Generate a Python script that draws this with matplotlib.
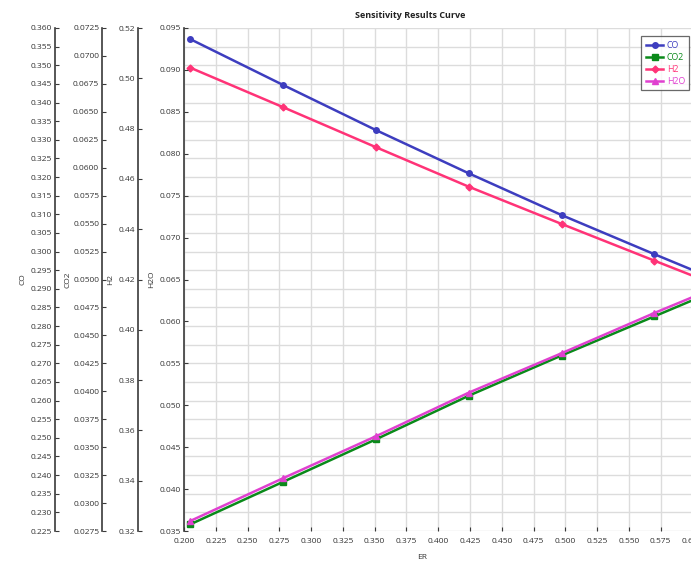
import matplotlib.pyplot as plt
from matplotlib.ticker import MultipleLocator, FormatStrFormatter

plt.rcParams['font.family'] = ['Open Sans', 'DejaVu Sans']

# sensitivity data
er = [0.205, 0.278, 0.351, 0.424, 0.497, 0.570, 0.643]
co = [0.3570, 0.3447, 0.3326, 0.3210, 0.3098, 0.2993, 0.2890]
co2 = [0.0281, 0.0319, 0.0357, 0.0396, 0.0432, 0.0467, 0.0502]
h2 = [0.5042, 0.4885, 0.4726, 0.4569, 0.4421, 0.4275, 0.4130]
h2o = [0.0362, 0.0413, 0.0463, 0.0515, 0.0562, 0.0610, 0.0656]

W, H = 691, 563
fig = plt.figure(figsize=(W / 100, H / 100), dpi=100, facecolor='white')

# axes box in pixels (right side runs past the picture edge)
left, right, top, bottom = 184, 756, 28, 531
ax = fig.add_axes([left / W, (H - bottom) / H, (right - left) / W, (bottom - top) / H])
ax.set_xlim(0.2, 0.65)

ax_co = ax.twinx()
ax_co2 = ax.twinx()
ax_h2 = ax.twinx()

tick_col = '#333333'
spine_col = '#3a3a3a'
fs = 6


def setup_left(a, pos, lim, step, fmt, label, label_x):
    a.set_ylim(*lim)
    a.yaxis.set_major_locator(MultipleLocator(step))
    a.yaxis.set_major_formatter(FormatStrFormatter(fmt))
    a.yaxis.set_ticks_position('left')
    a.yaxis.set_label_position('left')
    for s in ['top', 'right', 'bottom']:
        a.spines[s].set_visible(False)
    a.spines['left'].set_visible(True)
    a.spines['left'].set_position(('axes', pos))
    a.spines['left'].set_color(spine_col)
    a.spines['left'].set_linewidth(1.2)
    a.tick_params(axis='y', direction='in', length=3, width=0.8, colors=spine_col,
                  labelcolor=tick_col, labelsize=fs, pad=2)
    a.set_ylabel(label, fontsize=fs, color=tick_col)
    a.yaxis.set_label_coords(label_x, 0.5)


span = right - left
setup_left(ax_co, (55 - left) / span, (0.225, 0.360), 0.005, '%.3f', 'CO', (26 - left) / span)
setup_left(ax_co2, (102 - left) / span, (0.0275, 0.0725), 0.0025, '%.4f', 'CO2', (71 - left) / span)
setup_left(ax_h2, (138 - left) / span, (0.32, 0.52), 0.02, '%.2f', 'H2', (114 - left) / span)
setup_left(ax, 0.0, (0.035, 0.095), 0.005, '%.3f', 'H2O', (155 - left) / span)

ax.spines['bottom'].set_color(spine_col)
ax.spines['bottom'].set_linewidth(1.2)
ax.xaxis.set_major_locator(MultipleLocator(0.025))
ax.xaxis.set_major_formatter(FormatStrFormatter('%.3f'))
ax.tick_params(axis='x', direction='in', length=3, width=0.8, colors=spine_col,
               labelcolor=tick_col, labelsize=fs, pad=5)
ax.set_xlabel('ER', fontsize=fs, color=tick_col)
ax.xaxis.set_label_coords((422 - left) / span, -0.045)

# grid lives on the lowest axes so the curves sit on top of it
ax_co.xaxis.set_visible(True)
ax_co.tick_params(axis='x', length=0, labelbottom=False)
ax_co.grid(True, color='#dcdcdc', linewidth=1.0)
ax_co.set_axisbelow(True)

ax_co.set_zorder(0)
ax_co2.set_zorder(1)
ax_h2.set_zorder(2)
ax.set_zorder(3)
ax.patch.set_visible(False)

l1, = ax_co.plot(er, co, color='#3d3dbf', lw=1.8, marker='o', ms=4, label='CO')
l2, = ax_co2.plot(er, co2, color='#0a8a1a', lw=1.8, marker='s', ms=4, label='CO2')
l3, = ax_h2.plot(er, h2, color='#ff3377', lw=1.8, marker='D', ms=3.5, label='H2')
l4, = ax.plot(er, h2o, color='#e040d0', lw=1.8, marker='^', ms=4, label='H2O')

leg = ax.legend(handles=[l1, l2, l3, l4], loc='upper left',
                bbox_to_anchor=((637 - left) / span, 1 - (32 - top) / (bottom - top)),
                fontsize=6.3, frameon=True, fancybox=False, borderpad=0.5,
                handlelength=2.0, handletextpad=0.4, labelspacing=0.35)
leg.get_frame().set_edgecolor('#444444')
leg.get_frame().set_linewidth(0.9)
for txt, ln in zip(leg.get_texts(), [l1, l2, l3, l4]):
    txt.set_color(ln.get_color())

fig.text(410 / W, 1 - 15 / H, 'Sensitivity Results Curve', ha='center', va='center',
         fontsize=6.5, fontweight='bold', color='#222222')

fig.savefig('out.png', dpi=100)
